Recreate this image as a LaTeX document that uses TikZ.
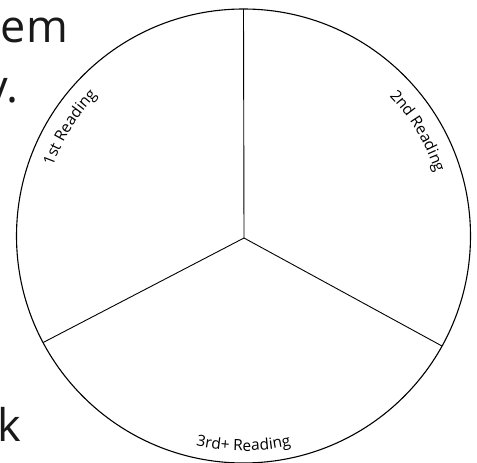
\documentclass[tikz,border=0pt]{standalone}
\usepackage{fontspec}
\setmainfont{Open Sans}
\usetikzlibrary{decorations.text}
\newcommand{\lblfont}{\fontsize{15.5}{18}\selectfont}
\begin{document}
\begin{tikzpicture}[x=1pt,y=1pt,
  ring/.style={circle, draw=black, line width=1.1pt, minimum size=454pt, inner sep=0pt, outer sep=0pt},
  spoke/.style={draw=black, line width=0.9pt},
  bigtext/.style={font=\fontsize{45}{52}\selectfont, text=black!90, inner sep=0pt, outer sep=0pt},
  arclabel/.style={decorate, decoration={text along path, text align=center, text={|\lblfont|#1}}}]
\useasboundingbox (0,0) rectangle (477,463);
\clip (0,0) rectangle (477,463);
\fill[white] (0,0) rectangle (477,463);
% background text fragments
\node[bigtext, anchor=base east] (em) at (68,420) {em};
\node[bigtext, anchor=base east] (yp) at (18.5,360) {y.};
\node[bigtext, anchor=base east] (kk) at (21,21) {k};
% circle and spokes
\coordinate (c) at (243.5,227);
\node[ring] (disk) at (c) {};
\coordinate (j) at (244,225);
\draw[spoke] (j) -- (disk.90);
\draw[spoke] (j) -- (disk.208);
\draw[spoke] (j) -- (disk.-29);
% labels along the rim
\path[arclabel={1st Reading}] ([shift={(178:203)}]c) arc[start angle=178, end angle=118, radius=203];
\path[arclabel={2nd Reading}] ([shift={(61:202)}]c) arc[start angle=61, end angle=1, radius=202];
\path[arclabel={3rd+ Reading}] ([shift={(240:215)}]c) arc[start angle=240, end angle=300, radius=215];
\end{tikzpicture}
\end{document}
